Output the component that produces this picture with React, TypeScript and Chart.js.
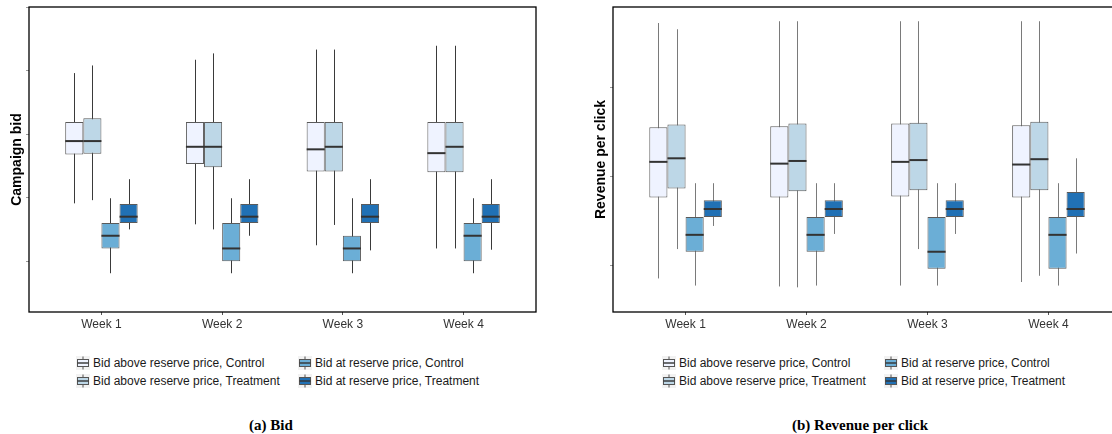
import React, { useEffect, useRef } from "react";
import { Chart, registerables } from "chart.js";
Chart.register(...registerables);

const weeks = ["Week 1", "Week 2", "Week 3", "Week 4"];
const weekPositions = [1, 2, 3, 4];
const seriesNames = [
  "Bid above reserve price, Control",
  "Bid above reserve price, Treatment",
  "Bid at reserve price, Control",
  "Bid at reserve price, Treatment",
];
const seriesColors = ["#EFF3FF", "#BDD7E7", "#6BAED6", "#2171B5"];

// Panel (a) Campaign bid — rows: series, columns: weeks
const bidLow = [
  [1.91, 1.58, 1.25, 1.2],
  [1.96, 1.5, 1.57, 1.2],
  [0.81, 0.81, 0.81, 0.81],
  [1.5, 1.4, 1.17, 1.18],
];
const bidQ1 = [
  [2.68, 2.53, 2.41, 2.4],
  [2.69, 2.48, 2.41, 2.4],
  [1.2, 1.0, 1.0, 1.0],
  [1.6, 1.6, 1.6, 1.6],
];
const bidMedian = [
  [2.89, 2.8, 2.76, 2.7],
  [2.89, 2.8, 2.8, 2.8],
  [1.4, 1.2, 1.2, 1.4],
  [1.7, 1.7, 1.7, 1.7],
];
const bidQ3 = [
  [3.19, 3.19, 3.19, 3.19],
  [3.25, 3.19, 3.19, 3.19],
  [1.6, 1.6, 1.4, 1.6],
  [1.9, 1.9, 1.9, 1.9],
];
const bidHigh = [
  [3.96, 4.17, 4.33, 4.39],
  [4.08, 4.27, 4.33, 4.39],
  [1.99, 1.99, 1.99, 1.99],
  [2.29, 2.29, 2.29, 2.29],
];
const bidTicks = [1, 2, 3, 4, 5];

// Panel (b) Revenue per click
const rpcLow = [
  [0.86, 0.77, 0.78, 0.82],
  [1.19, 0.76, 1.19, 0.89],
  [0.78, 0.78, 0.78, 0.78],
  [1.45, 1.36, 1.36, 1.14],
];
const rpcQ1 = [
  [1.77, 1.77, 1.78, 1.77],
  [1.87, 1.84, 1.85, 1.85],
  [1.16, 1.16, 0.97, 0.97],
  [1.55, 1.55, 1.55, 1.55],
];
const rpcMedian = [
  [2.17, 2.15, 2.17, 2.14],
  [2.21, 2.18, 2.19, 2.2],
  [1.35, 1.35, 1.16, 1.35],
  [1.64, 1.64, 1.64, 1.64],
];
const rpcQ3 = [
  [2.56, 2.57, 2.6, 2.58],
  [2.59, 2.6, 2.61, 2.62],
  [1.55, 1.55, 1.55, 1.55],
  [1.74, 1.74, 1.74, 1.83],
];
const rpcHigh = [
  [3.73, 3.75, 3.75, 3.75],
  [3.66, 3.75, 3.75, 3.75],
  [1.93, 1.93, 1.93, 1.93],
  [1.93, 1.93, 1.93, 2.21],
];
const rpcTicks = [1, 2, 3];

const FONT = "'Liberation Sans', Arial, Helvetica, sans-serif";

const boxPlugin = {
  id: "boxWhiskers",
  beforeDatasetsDraw(chart: any) {
    const ctx = chart.ctx;
    const y = chart.scales.y;
    chart.data.datasets.forEach((ds: any, d: number) => {
      const meta = chart.getDatasetMeta(d);
      meta.data.forEach((el: any, i: number) => {
        const x = Math.round(el.x) + 0.5;
        ctx.save();
        ctx.strokeStyle = ds.whiskerColor;
        ctx.lineWidth = 1;
        ctx.beginPath();
        ctx.moveTo(x, y.getPixelForValue(ds.lows[i]));
        ctx.lineTo(x, y.getPixelForValue(ds.highs[i]));
        ctx.stroke();
        ctx.restore();
      });
    });
  },
  afterDatasetsDraw(chart: any) {
    const ctx = chart.ctx;
    const y = chart.scales.y;
    chart.data.datasets.forEach((ds: any, d: number) => {
      const meta = chart.getDatasetMeta(d);
      meta.data.forEach((el: any, i: number) => {
        const py = y.getPixelForValue(ds.medians[i]);
        ctx.save();
        ctx.strokeStyle = "#333333";
        ctx.lineWidth = 2;
        ctx.beginPath();
        ctx.moveTo(el.x - el.width / 2, py);
        ctx.lineTo(el.x + el.width / 2, py);
        ctx.stroke();
        ctx.restore();
      });
    });
  },
  afterDraw(chart: any) {
    const { ctx, chartArea } = chart;
    ctx.save();
    ctx.strokeStyle = "#000000";
    ctx.lineWidth = 1.3;
    ctx.strokeRect(chartArea.left, chartArea.top, chartArea.right - chartArea.left, chartArea.bottom - chartArea.top);
    ctx.restore();
  },
};

type BoxChartProps = {
  width: number;
  height: number;
  plotLeft: number;
  plotRight: number;
  yTitle: string;
  titlePad: number;
  yMin: number;
  yMax: number;
  yTicks: number[];
  low: number[][];
  q1: number[][];
  med: number[][];
  q3: number[][];
  high: number[][];
  whiskerColor: string;
};

function BoxChart(p: BoxChartProps) {
  const ref = useRef<HTMLCanvasElement | null>(null);
  useEffect(() => {
    if (!ref.current) return;
    const datasets = seriesNames.map((name, s) => ({
      label: name,
      data: weekPositions.map((x, i) => ({ x, y: [p.q1[s][i], p.q3[s][i]] })),
      backgroundColor: seriesColors[s],
      borderColor: "#5a5a5a",
      borderWidth: 1,
      borderSkipped: false,
      barPercentage: 1,
      categoryPercentage: 0.6,
      lows: p.low[s],
      highs: p.high[s],
      medians: p.med[s],
      whiskerColor: p.whiskerColor,
    }));
    const chart = new Chart(ref.current, {
      type: "bar",
      data: { datasets } as any,
      plugins: [boxPlugin],
      options: {
        animation: false,
        responsive: false,
        maintainAspectRatio: false,
        layout: { padding: { left: 0, right: p.width - p.plotRight, top: 7, bottom: 0 } },
        plugins: { legend: { display: false }, tooltip: { enabled: false } },
        scales: {
          x: {
            type: "linear",
            min: 0.4,
            max: 4.6,
            offset: false,
            afterBuildTicks: (s: any) => {
              s.ticks = weekPositions.map((v) => ({ value: v }));
            },
            afterFit: (s: any) => {
              s.height = p.height - 312;
            },
            ticks: {
              callback: (v: any) => weeks[Math.round(Number(v)) - 1] ?? "",
              color: "#333333",
              font: { family: FONT, size: 12 },
              padding: 2,
              maxRotation: 0,
              autoSkip: false,
            },
            grid: { offset: false, drawOnChartArea: false, drawTicks: true, tickLength: 3, color: "#555555" },
            border: { display: false },
          },
          y: {
            type: "linear",
            min: p.yMin,
            max: p.yMax,
            afterBuildTicks: (s: any) => {
              s.ticks = p.yTicks.map((v) => ({ value: v }));
            },
            afterFit: (s: any) => {
              s.width = p.plotLeft;
            },
            ticks: { display: false },
            grid: { drawOnChartArea: false, drawTicks: true, tickLength: 3, color: "#999999" },
            border: { display: false },
            title: {
              display: true,
              text: p.yTitle,
              color: "#000000",
              font: { family: FONT, size: 14, weight: "bold" },
              padding: { top: p.titlePad, bottom: 0 },
            },
          },
        },
      } as any,
    });
    return () => chart.destroy();
  }, []);
  return <canvas ref={ref} width={p.width} height={p.height} style={{ width: p.width, height: p.height, display: "block" }} />;
}

function LegendIcon({ color }: { color: string }) {
  return (
    <svg width={14} height={14} style={{ display: "block" }}>
      <rect x={0} y={0} width={14} height={14} fill="#f2f2f2" />
      <line x1={7} y1={0.5} x2={7} y2={13.5} stroke="#555" strokeWidth={1} />
      <rect x={1.5} y={3.5} width={11} height={7} fill={color} stroke="#555" strokeWidth={1} />
      <line x1={1.5} y1={7} x2={12.5} y2={7} stroke="#333" strokeWidth={1.4} />
    </svg>
  );
}

function Legend({ left, col2 }: { left: number; col2: number }) {
  const order = [0, 1, 2, 3];
  const rows = [363, 380.5];
  return (
    <>
      {order.map((s) => {
        const col = s < 2 ? left : col2;
        const row = rows[s % 2];
        return (
          <div
            key={s}
            style={{
              position: "absolute",
              left: col,
              top: row - 7,
              height: 14,
              display: "flex",
              alignItems: "center",
              whiteSpace: "nowrap",
              fontFamily: FONT,
              fontSize: 12,
              color: "#1a1a1a",
            }}
          >
            <LegendIcon color={seriesColors[s]} />
            <span style={{ marginLeft: 3, lineHeight: "14px" }}>{seriesNames[s]}</span>
          </div>
        );
      })}
    </>
  );
}

export default function App() {
  const captionStyle: React.CSSProperties = {
    position: "absolute",
    top: 416,
    width: 400,
    textAlign: "center",
    fontFamily: "'Liberation Serif', 'DejaVu Serif', serif",
    fontWeight: "bold",
    fontSize: 15,
    color: "#000",
    lineHeight: "18px",
  };
  return (
    <div style={{ position: "absolute", left: 0, top: 0, width: 1112, height: 434, overflow: "hidden", background: "#fff" }}>
      <div style={{ position: "absolute", left: 0, top: 0 }}>
        <BoxChart
          width={548}
          height={340}
          plotLeft={29}
          plotRight={536}
          yTitle="Campaign bid"
          titlePad={8.6}
          yMin={0.2}
          yMax={5}
          yTicks={bidTicks}
          low={bidLow}
          q1={bidQ1}
          med={bidMedian}
          q3={bidQ3}
          high={bidHigh}
          whiskerColor="#3a3a3a"
        />
      </div>
      <div style={{ position: "absolute", left: 556, top: 0 }}>
        <BoxChart
          width={580}
          height={340}
          plotLeft={57}
          plotRight={565}
          yTitle="Revenue per click"
          titlePad={36.6}
          yMin={0.483}
          yMax={3.91}
          yTicks={rpcTicks}
          low={rpcLow}
          q1={rpcQ1}
          med={rpcMedian}
          q3={rpcQ3}
          high={rpcHigh}
          whiskerColor="#7a7a7a"
        />
      </div>
      <Legend left={76} col2={298} />
      <Legend left={662} col2={884} />
      <div style={{ ...captionStyle, left: 271 - 200 }}>(a) Bid</div>
      <div style={{ ...captionStyle, left: 860 - 200 }}>(b) Revenue per click</div>
    </div>
  );
}
